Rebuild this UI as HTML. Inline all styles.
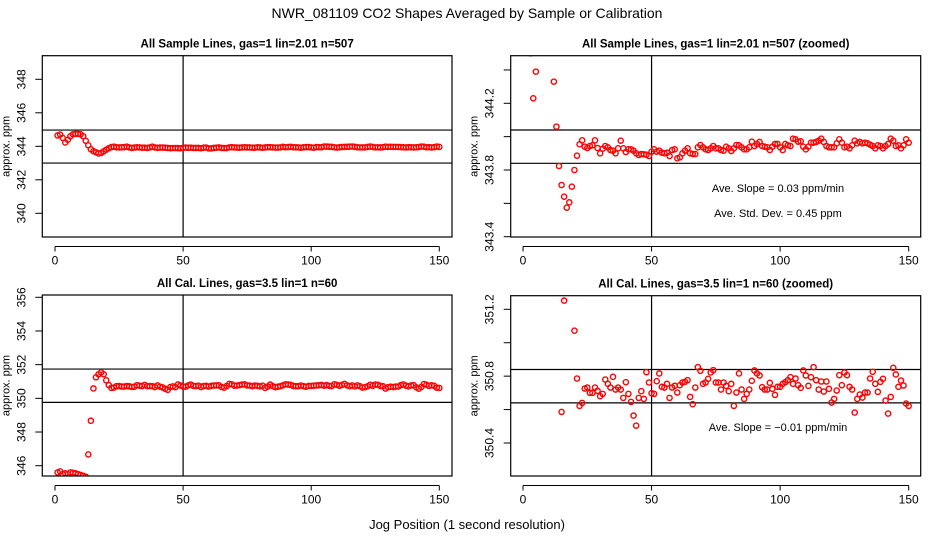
<!DOCTYPE html>
<html><head><meta charset="utf-8"><style>
html,body{margin:0;padding:0;background:#fff;width:936px;height:540px;overflow:hidden;}
svg{display:block;font-family:"Liberation Sans",Arial,sans-serif;}
</style></head><body>
<svg id="chart" width="936" height="540" viewBox="0 0 936 540">
<text x="467" y="18" text-anchor="middle" font-size="14">NWR_081109  CO2 Shapes Averaged by Sample or Calibration</text>
<text x="467" y="529" text-anchor="middle" font-size="13">Jog Position (1 second resolution)</text>
</svg>
<script>
const sampleValues = [344.65,344.7,344.5,344.23,344.39,344.6,344.72,344.75,344.74,344.72,344.6,344.33,344.06,343.824,343.71,343.64,343.574,343.606,343.70,343.80,343.886,343.954,343.978,343.94,343.932,343.944,343.948,343.978,343.932,343.90,343.928,343.944,343.936,343.92,343.916,343.90,343.93,343.976,343.93,343.908,343.924,343.924,343.916,343.90,343.89,343.896,343.894,343.892,343.884,343.91,343.924,343.91,343.916,343.904,343.90,343.904,343.884,343.92,343.924,343.87,343.876,343.90,343.916,343.93,343.90,343.896,343.896,343.936,343.95,343.936,343.924,343.92,343.93,343.944,343.93,343.93,343.92,343.916,343.94,343.93,343.914,343.93,343.95,343.948,343.936,343.924,343.924,343.936,343.97,343.944,343.956,343.968,343.944,343.94,343.936,343.92,343.94,343.956,343.956,343.936,343.92,343.956,343.948,343.944,343.988,343.984,343.97,343.972,343.94,343.924,343.94,343.964,343.964,343.968,343.976,343.988,343.968,343.944,343.936,343.936,343.936,343.96,343.984,343.964,343.936,343.94,343.93,343.948,343.976,343.96,343.968,343.96,343.964,343.96,343.952,343.944,343.93,343.948,343.944,343.93,343.944,343.956,343.988,343.976,343.944,343.948,343.93,343.948,343.984,343.964];
const calValues = [345.6,345.66,345.5,345.55,345.5,345.6,345.58,345.55,345.5,345.45,345.4,345.35,346.67,348.67,350.586,351.252,351.43,351.54,351.43,351.072,350.786,350.622,350.64,350.726,350.732,350.70,350.70,350.732,350.712,350.68,350.694,350.78,350.754,350.732,350.796,350.72,350.732,350.72,350.67,350.764,350.694,350.646,350.564,350.504,350.67,350.71,350.664,350.824,350.762,350.698,350.694,350.77,350.816,350.736,350.732,350.754,350.67,350.732,350.742,350.702,350.746,350.762,350.766,350.776,350.676,350.632,350.732,350.854,350.832,350.754,350.762,350.784,350.822,350.836,350.762,350.762,350.72,350.762,350.742,350.71,350.754,350.622,350.702,350.816,350.72,350.664,350.694,350.72,350.772,350.834,350.816,350.804,350.734,350.72,350.72,350.76,350.724,350.688,350.736,350.736,350.754,350.764,350.776,350.794,350.754,350.786,350.746,350.73,350.834,350.804,350.742,350.794,350.854,350.776,350.72,350.768,350.708,350.768,350.724,350.642,350.664,350.714,350.806,350.746,350.822,350.806,350.736,350.72,350.582,350.664,350.69,350.672,350.702,350.702,350.786,350.826,350.754,350.706,350.766,350.784,350.654,350.576,350.676,350.85,350.81,350.736,350.774,350.744,350.636,350.622];
const xTicks = [0,50,100,150];
const p1Ticks = [340,342,344,346,348];
const p1Labels = ["340","342","344","346","348"];
const p2Ticks = [343.4,343.6,343.8,344.0,344.2,344.4];
const p2Labels = ["343.4","","343.8","","344.2",""];
const p3Ticks = [346,348,350,352,354,356];
const p3Labels = ["346","348","350","352","354","356"];
const p4Ticks = [350.4,350.6,350.8,351.0,351.2];
const p4Labels = ["350.4","","350.8","","351.2"];
const p1HLines = [344.97,343.0];
const p2HLines = [344.04,343.84];
const p3HLines = [351.74,349.76];
const p4HLines = [350.84,350.64];

const NS="http://www.w3.org/2000/svg";
const svg=document.getElementById('chart');
function mk(tag,attrs,parent){const e=document.createElementNS(NS,tag);for(const k in attrs)e.setAttribute(k,attrs[k]);(parent||svg).appendChild(e);return e;}

function panel(cfg){
  const g=mk('g',{});
  
  
  const xs=v=>cfg.x0+(v-0)*(cfg.x150-cfg.x0)/150;
  const ys=v=>cfg.pa+(v-cfg.va)*(cfg.pb-cfg.pa)/(cfg.vb-cfg.va);
  const cid='clip-'+cfg.name;
  const cp=mk('clipPath',{id:cid},g);
  mk('rect',{x:cfg.l,y:cfg.t,width:cfg.r-cfg.l,height:cfg.b-cfg.t},cp);
  const t=mk('text',{x:(cfg.l+cfg.r)/2,y:cfg.t-8,'text-anchor':'middle','font-size':11.5,'font-weight':'bold'},g);
  t.textContent=cfg.title;
  
  
  cfg.hl.forEach(v=>{const l=mk('line',{x1:cfg.l,x2:cfg.r,y1:ys(v),y2:ys(v),stroke:'#000','stroke-width':1.2},g);
    
    });
  const vl=mk('line',{x1:xs(50),x2:xs(50),y1:cfg.t,y2:cfg.b,stroke:'#000','stroke-width':1.2},g);
  
  
  const pg=mk('g',{'clip-path':'url(#'+cid+')'},g);
  
  
  cfg.data.forEach((v,i)=>{const c=mk('circle',{cx:xs(i+1),cy:ys(v),r:2.6,fill:'none',stroke:'#f00','stroke-width':1.4},pg);
    
    });
  const bx=mk('rect',{x:cfg.l,y:cfg.t,width:cfg.r-cfg.l,height:cfg.b-cfg.t,fill:'none',stroke:'#000','stroke-width':1.2},g);
  
  
  const ax=mk('g',{},g);
  
  
  const ay0=cfg.b+9.5;
  mk('line',{x1:xs(0),x2:xs(150),y1:ay0,y2:ay0,stroke:'#000','stroke-width':1},ax);
  xTicks.forEach(v=>{mk('line',{x1:xs(v),x2:xs(v),y1:ay0,y2:ay0+5,stroke:'#000','stroke-width':1},ax);
    const tl=mk('text',{x:xs(v),y:ay0+18,'text-anchor':'middle','font-size':12},ax);tl.textContent=v;
    
    });
  const yg=mk('g',{},g);
  
  
  cfg.ticks.forEach((v,i)=>{const y=ys(v);mk('line',{x1:cfg.l-7,x2:cfg.l,y1:y,y2:y,stroke:'#000','stroke-width':1},yg);
    if(cfg.labels[i]){const tl=mk('text',{x:0,y:0,'text-anchor':'middle','font-size':12,transform:'translate('+(cfg.l-17)+','+y+') rotate(-90)'},yg);tl.textContent=cfg.labels[i];
      
      }});
  const yl=mk('text',{x:0,y:0,'text-anchor':'middle','font-size':11,transform:'translate('+(cfg.l-33)+','+((cfg.t+cfg.b)/2)+') rotate(-90)'},g);
  yl.textContent='approx. ppm';
  
  
  (cfg.notes||[]).forEach(n=>{const tn=mk('text',{x:n[0],y:n[1],'text-anchor':'middle','font-size':11},g);tn.textContent=n[2];
    
    });
}
panel({name:'sample-panel',title:'All Sample Lines, gas=1 lin=2.01 n=507',l:42.3,r:452,t:55.7,b:237,x0:55,x150:439.3,va:340,pa:213.3,vb:348,pb:79.3,ticks:p1Ticks,labels:p1Labels,hl:p1HLines,data:sampleValues});
panel({name:'sample-zoomed-panel',title:'All Sample Lines, gas=1 lin=2.01 n=507 (zoomed)',l:510.7,r:920.7,t:55.7,b:237,x0:523,x150:908.7,va:343.4,pa:236.7,vb:344.2,pb:103.3,ticks:p2Ticks,labels:p2Labels,hl:p2HLines,data:sampleValues,
  notes:[[778,192,'Ave. Slope =  0.03  ppm/min'],[778,217,'Ave. Std. Dev. =  0.45  ppm']]});
panel({name:'cal-panel',title:'All Cal. Lines, gas=3.5 lin=1 n=60',l:42.3,r:452,t:295,b:476,x0:55,x150:439.3,va:346,pa:465.7,vb:356,pb:297.3,ticks:p3Ticks,labels:p3Labels,hl:p3HLines,data:calValues});
panel({name:'cal-zoomed-panel',title:'All Cal. Lines, gas=3.5 lin=1 n=60 (zoomed)',l:510.7,r:920.7,t:295.7,b:476,x0:523,x150:908.7,va:350.4,pa:443,vb:351.2,pb:309.3,ticks:p4Ticks,labels:p4Labels,hl:p4HLines,data:calValues,
  notes:[[778,431,'Ave. Slope =  \u22120.01  ppm/min']]});
</script>
</body></html>
